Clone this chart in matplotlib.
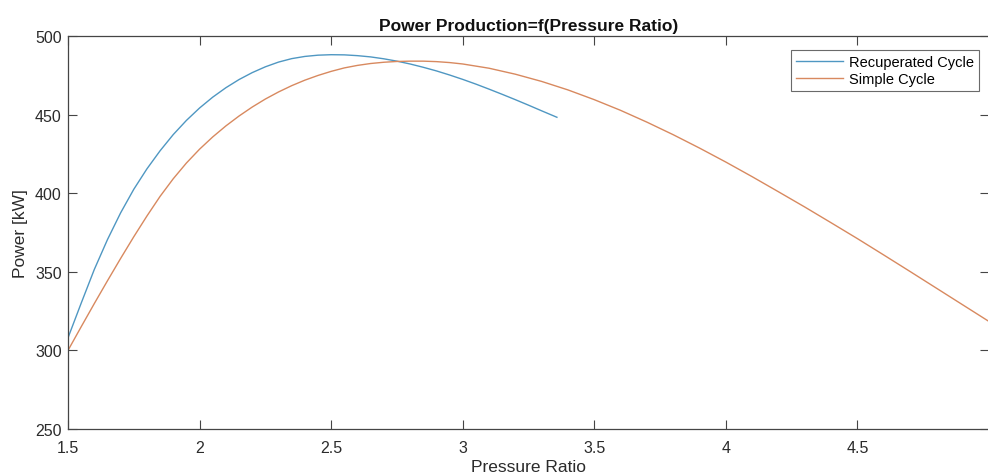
import matplotlib
matplotlib.use("agg")
import matplotlib.pyplot as plt

plt.rcParams["font.family"] = ["Liberation Sans", "DejaVu Sans"]

# power output [kW] vs compressor pressure ratio
recup_pr = [1.50, 1.55, 1.60, 1.65, 1.70, 1.75, 1.80, 1.85, 1.90, 1.95,
            2.00, 2.05, 2.10, 2.15, 2.20, 2.25, 2.30, 2.35, 2.40, 2.45,
            2.50, 2.55, 2.60, 2.65, 2.70, 2.75, 2.80, 2.85, 2.90, 2.95,
            3.00, 3.05, 3.10, 3.15, 3.20, 3.25, 3.30, 3.358]
recup_kw = [308.0, 330.0, 351.5, 370.5, 387.5, 402.5, 415.5, 427.0, 437.3, 446.3,
            454.2, 461.1, 467.1, 472.3, 476.7, 480.4, 483.4, 485.6, 487.0, 487.8,
            488.1, 488.0, 487.5, 486.7, 485.5, 484.0, 482.2, 480.1, 477.8, 475.2,
            472.4, 469.4, 466.2, 462.9, 459.5, 456.0, 452.4, 448.3]

simple_pr = [1.50, 1.55, 1.60, 1.65, 1.70, 1.75, 1.80, 1.85, 1.90, 1.95,
             2.00, 2.05, 2.10, 2.15, 2.20, 2.25, 2.30, 2.35, 2.40, 2.45,
             2.50, 2.55, 2.60, 2.65, 2.70, 2.75, 2.80, 2.85, 2.90, 2.95,
             3.00, 3.10, 3.20, 3.30, 3.40, 3.50, 3.60, 3.70, 3.80, 3.90,
             4.00, 4.10, 4.20, 4.30, 4.40, 4.50, 4.60, 4.70, 4.80, 4.90,
             5.00]
simple_kw = [300.0, 315.0, 329.8, 344.3, 358.5, 372.3, 385.5, 398.0, 409.2, 419.2,
             428.0, 435.8, 442.8, 449.1, 454.8, 459.9, 464.4, 468.4, 471.9, 474.9,
             477.5, 479.7, 481.3, 482.5, 483.3, 483.8, 484.0, 484.0, 483.7, 483.1,
             482.2, 479.5, 475.7, 471.1, 465.7, 459.5, 452.7, 445.2, 437.2, 428.7,
             419.8, 410.5, 400.9, 391.2, 381.2, 371.1, 360.7, 350.2, 339.6, 329.0,
             318.4]

x_ticks = [1.5, 2, 2.5, 3, 3.5, 4, 4.5]
x_tick_labels = ["1.5", "2", "2.5", "3", "3.5", "4", "4.5"]
y_ticks = [250, 300, 350, 400, 450, 500]

fig = plt.figure(figsize=(9.88, 4.77), dpi=100)
ax = fig.add_axes([68 / 988, 1 - 430 / 477, 921 / 988, 393 / 477])

ax.plot(recup_pr, recup_kw, color="#4f97c2", lw=1.0, label="Recuperated Cycle")
ax.plot(simple_pr, simple_kw, color="#d8895f", lw=1.0, label="Simple Cycle")

ax.set_xlim(1.5, 5)
ax.set_ylim(250, 500)
ax.set_xticks(x_ticks)
ax.set_xticklabels(x_tick_labels)
ax.set_yticks(y_ticks)

edge = "#454545"
for s in ax.spines.values():
    s.set_color(edge)
    s.set_linewidth(0.9)
ax.tick_params(direction="in", length=6.5, width=0.8, color=edge,
               labelcolor="#2b2b2b", labelsize=11.5, top=True, right=True)
ax.tick_params(axis="x", pad=8)
ax.tick_params(axis="y", pad=4.5)

ax.set_xlabel("Pressure Ratio", fontsize=12.5, color="#2b2b2b", labelpad=3)
ax.set_ylabel("Power [kW]", fontsize=12.5, color="#2b2b2b", labelpad=5)
ax.set_title("Power Production=f(Pressure Ratio)", fontsize=12.5,
             fontweight="bold", color="#111111", pad=4)

leg = ax.legend(loc="upper right", bbox_to_anchor=(0.989, 0.964),
                fontsize=10.5, frameon=True, fancybox=False,
                handlelength=3.2, handletextpad=0.4, borderpad=0.35,
                labelspacing=0.2, borderaxespad=0)
leg.get_frame().set_edgecolor(edge)
leg.get_frame().set_linewidth(0.8)

fig.savefig("out.png", dpi=100)
